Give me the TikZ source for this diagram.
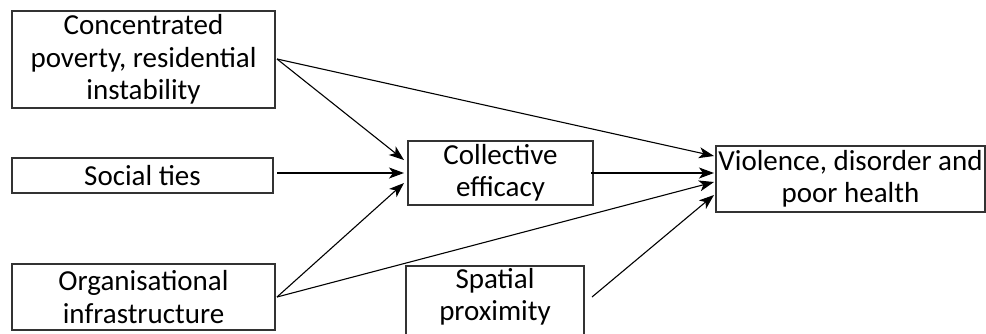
\documentclass[tikz,border=0pt]{standalone}
\usepackage{fontspec}
\setmainfont{Carlito}
\usetikzlibrary{arrows.meta}
\begin{document}
\begin{tikzpicture}[x=1pt,y=-1pt,
  boxnode/.style={draw=black!80,line width=1.2pt,rectangle,inner sep=0pt,align=center,
    font=\fontsize{29}{32.5}\selectfont},
  arr/.style={line width=1.1pt,-{Stealth[length=15pt,width=11pt,inset=4pt]}}]
\useasboundingbox (0,0) rectangle (986,333);
\node[boxnode,minimum width=263pt,minimum height=97pt] (cp) at (143.5,59.5) {Concentrated\\poverty, residential\\instability};
\node[boxnode,minimum width=261pt,minimum height=35pt] (st) at (142.5,175.5) {Social ties};
\node[boxnode,minimum width=263pt,minimum height=66pt] (oi) at (143.5,297) {Organisational\\infrastructure};
\node[boxnode,minimum width=185pt,minimum height=64pt] (ce) at (500.5,173) {Collective\\efficacy};
\node[boxnode,minimum width=269pt,minimum height=66pt] (vd) at (850.5,179) {Violence, disorder and\\poor health};
\draw[draw=black!80,line width=1.2pt] (406,345) -- (406,266) -- (584,266) -- (584,345);
\node[font=\fontsize{29}{32.5}\selectfont,align=center,inner sep=0pt] (sp) at (495,297) {Spatial\\proximity};
\coordinate (cpo) at (277,59);
\coordinate (sto) at (277,173);
\coordinate (oio) at (277,297);
\coordinate (ceo) at (591,173);
\coordinate (spo) at (592,297);
\coordinate (ce1) at (404,160);
\coordinate (ce2) at (404,173);
\coordinate (ce3) at (404,183);
\coordinate (vd1) at (714,156);
\coordinate (vd2) at (714,173);
\coordinate (vd3) at (714,182);
\coordinate (vd4) at (714,195);
\draw[arr] (cpo) -- (ce1);
\draw[arr] (cpo) -- (vd1);
\draw[arr] (sto) -- (ce2);
\draw[arr] (oio) -- (ce3);
\draw[arr] (oio) -- (vd3);
\draw[arr] (ceo) -- (vd2);
\draw[arr] (spo) -- (vd4);
\end{tikzpicture}
\end{document}
